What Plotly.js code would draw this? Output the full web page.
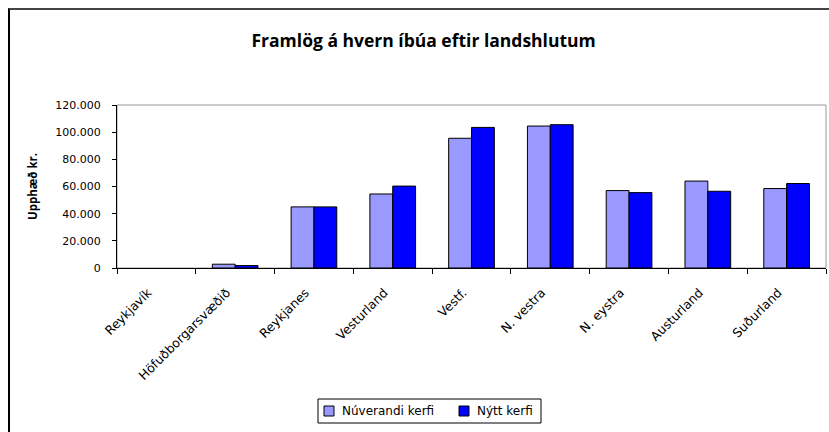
<!DOCTYPE html>
<html>
<head>
<meta charset="utf-8">
<script src="https://cdn.plot.ly/plotly-3.0.1.min.js"></script>
<style>
  html, body { margin: 0; padding: 0; background: #fff; }
  #wrap { position: relative; width: 829px; height: 432px; }
  #frame { position: absolute; left: 8px; top: 8px; width: 821px; height: 424px;
           border-left: 2px solid #000; border-top: 2px solid #444; box-sizing: border-box; pointer-events: none; }
  #chart { position: absolute; left: 0; top: 0; width: 829px; height: 432px; }
</style>
</head>
<body>
<div id="wrap">
  <div id="chart"></div>
  <div id="frame"></div>
</div>
<script>
const categories = ["Reykjavík", "Höfuðborgarsvæðið", "Reykjanes", "Vesturland", "Vestf.", "N. vestra", "N. eystra", "Austurland", "Suðurland"];
const nuverandi = [0, 2800, 45000, 54500, 95500, 104500, 57000, 64000, 58500];
const nytt = [0, 1800, 45000, 60300, 103500, 105500, 55500, 56500, 62200];
const seriesNames = ["Núverandi kerfi", "Nýtt kerfi"];
const seriesColors = ["#9999FF", "#0000FF"];
const yTicks = [0, 20000, 40000, 60000, 80000, 100000, 120000];

// plot area in pixels (margins)
const M = { l: 117, r: 3, t: 105, b: 164 };
const W = 829, H = 432;
const PW = W - M.l - M.r, PH = H - M.t - M.b;
const px = x => (x - M.l) / PW;           // pixel x -> paper x
const py = y => (H - M.b - y) / PH;       // pixel y -> paper y

const yTickFont = { family: "DejaVu Sans, Verdana, sans-serif", size: 11, color: "#000" };
const xTickFont = { family: "DejaVu Sans, Verdana, sans-serif", size: 12.5, color: "#000" };
const pad = "\u00a0\u00a0\u00a0";

const traces = [
  { type: "bar", name: seriesNames[0], x: categories, y: nuverandi, showlegend: false,
    marker: { color: seriesColors[0], line: { color: "#000", width: nuverandi.map(v => v === 0 ? 0 : 1) } } },
  { type: "bar", name: seriesNames[1], x: categories, y: nytt, showlegend: false,
    marker: { color: seriesColors[1], line: { color: "#000", width: nytt.map(v => v === 0 ? 0 : 1) } } }
];

// manual legend (box, swatches, labels)
const legendBox = { x0: 318, x1: 541, y0: 399, y1: 423 };
const swatchX = [324, 459];
const labelX = [340, 475];
const legendY = 411;

const shapes = [
  { type: "rect", xref: "paper", yref: "paper", x0: 0, x1: 1, y0: 0, y1: 1,
    line: { color: "#999", width: 1 }, layer: "below" },
  { type: "rect", xref: "paper", yref: "paper",
    x0: px(legendBox.x0), x1: px(legendBox.x1), y0: py(legendBox.y1), y1: py(legendBox.y0),
    line: { color: "#000", width: 1 }, fillcolor: "#fff" }
];
const annotations = [];
seriesNames.forEach((name, i) => {
  shapes.push({ type: "rect", xref: "paper", yref: "paper",
    x0: px(swatchX[i]), x1: px(swatchX[i] + 10), y0: py(legendY + 5), y1: py(legendY - 5),
    line: { color: "#000", width: 1 }, fillcolor: seriesColors[i] });
  annotations.push({ xref: "paper", yref: "paper", x: px(labelX[i]), y: py(legendY),
    xanchor: "left", yanchor: "middle", showarrow: false, text: name,
    font: { family: "DejaVu Sans, Verdana, sans-serif", size: 12, color: "#000" } });
});

const layout = {
  width: W, height: H,
  margin: { l: M.l, r: M.r, t: M.t, b: M.b, pad: 0 },
  paper_bgcolor: "#fff", plot_bgcolor: "#fff",
  separators: ",.",
  barmode: "group", bargap: 0.42, bargroupgap: 0,
  showlegend: false,
  title: { text: "<b>Framlög á hvern íbúa eftir landshlutum</b>",
           font: { family: "Open Sans, Calibri, sans-serif", size: 17.5, color: "#000" },
           x: 0.511, xanchor: "center", y: 0.905, yanchor: "middle" },
  xaxis: {
    type: "category", tickson: "boundaries", ticks: "outside", ticklen: 5,
    tickcolor: "#000", tickwidth: 1, showline: true, linecolor: "#000", linewidth: 1,
    showgrid: false, tickangle: -45, tickfont: xTickFont, fixedrange: true,
    tickvals: categories, ticktext: categories.map(c => c + pad),
    ticklabelstandoff: 3
  },
  yaxis: {
    range: [0, 120000], tickvals: yTicks, tickformat: ",d",
    ticks: "outside", ticklen: 4, tickcolor: "#000", tickwidth: 1,
    showline: true, linecolor: "#000", linewidth: 1, showgrid: false, zeroline: false,
    tickfont: yTickFont, ticklabelstandoff: 9,
    title: { text: "<b>Upphæð kr.</b>", font: { family: "Open Sans, Calibri, sans-serif", size: 11.5, color: "#000" }, standoff: 15 }
  },
  shapes: shapes,
  annotations: annotations
};

Plotly.newPlot("chart", traces, layout, { displayModeBar: false, staticPlot: true });
</script>
</body>
</html>
